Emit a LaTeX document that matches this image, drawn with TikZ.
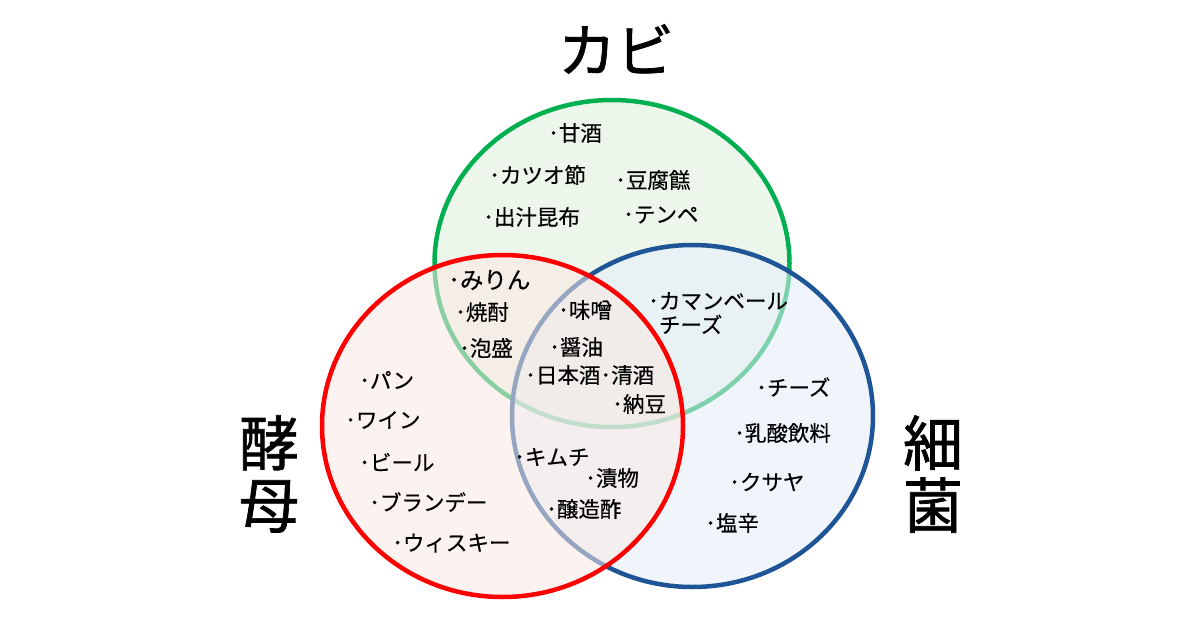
\documentclass[tikz,border=0pt]{standalone}
\usepackage{fontspec}
\setmainfont{Noto Sans CJK JP}
\newfontfamily\titlefont[FakeBold=1.2]{Noto Sans CJK JP}
\newfontfamily\itemfont[FakeBold=0.4]{Noto Sans CJK JP}
\definecolor{gline}{RGB}{0,176,80}
\definecolor{rline}{RGB}{255,0,0}
\definecolor{bline}{RGB}{30,85,150}
\definecolor{gfill}{RGB}{224,240,220}
\definecolor{rfill}{RGB}{250,233,228}
\definecolor{bfill}{RGB}{228,237,250}
\tikzset{
  setring/.style={line width=4.5pt, fill opacity=0.55, draw opacity=1},
  item/.style={anchor=west, inner sep=0pt, font=\itemfont\fontsize{21.5}{24}\selectfont, text=black},
  bigitem/.style={item, font=\itemfont\fontsize{23.5}{26}\selectfont},
  title/.style={inner sep=0pt, align=center, font=\titlefont\fontsize{60}{62}\selectfont, text=black}
}
\begin{document}
\begin{tikzpicture}[x=1pt,y=-1pt]
\useasboundingbox (0,0) rectangle (1200,624);
\fill[white] (0,0) rectangle (1200,624);
% circles: green, blue, red
\draw[setring, draw=gline, fill=gfill] (612,263.5) ellipse [x radius=177.5pt, y radius=163.5pt];
\draw[setring, draw=bline, fill=bfill] (692.5,416) ellipse [x radius=180.5pt, y radius=171pt];
\draw[setring, draw=rline, fill=rfill] (502.5,426) ellipse [x radius=180.5pt, y radius=171pt];
% titles
\node[title, font=\titlefont\fontsize{58}{60}\selectfont] (kabi) at (616,49) {カビ};
\node[title] (kobo) at (269,474) {酵\\母};
\node[title] (saikin) at (933,474) {細\\菌};
% mold only
\node[item] (amazake) at (548,133) {･甘酒};
\node[item] (katsuo) at (489,175) {･カツオ節};
\node[item] (tofuyo) at (615,180) {･豆腐餻};
\node[item] (dashi) at (483,217) {･出汁昆布};
\node[item] (tempe) at (623,215) {･テンペ};
% mold + yeast
\node[bigitem] (mirin) at (448,280) {･みりん};
\node[item] (shochu) at (455,312) {･焼酎};
\node[item] (awamori) at (459,348) {･泡盛};
% all three
\node[item] (miso) at (558,310) {･味噌};
\node[item] (shoyu) at (549,347) {･醤油};
\node[item] (sake) at (525,375) {･日本酒･清酒};
\node[item] (natto) at (612,404) {･納豆};
% mold + bacteria
\node[item, align=left] (camembert) at (648,313) {･カマンベール\\\hspace{0.5em}チーズ};
% yeast only
\node[item] (pan) at (359,380) {･パン};
\node[item] (wine) at (345,420) {･ワイン};
\node[item] (beer) at (359,462) {･ビール};
\node[item] (brandy) at (369,502) {･ブランデー};
\node[item] (whisky) at (392,543) {･ウィスキー};
% yeast + bacteria
\node[item] (kimchi) at (514,457) {･キムチ};
\node[item] (tsukemono) at (585,478) {･漬物};
\node[item] (vinegar) at (546,509) {･醸造酢};
% bacteria only
\node[item] (cheese) at (756,387) {･チーズ};
\node[item] (nyusan) at (734,433) {･乳酸飲料};
\node[item] (kusaya) at (729,482) {･クサヤ};
\node[item] (shiokara) at (705,523) {･塩辛};
\end{tikzpicture}
\end{document}
